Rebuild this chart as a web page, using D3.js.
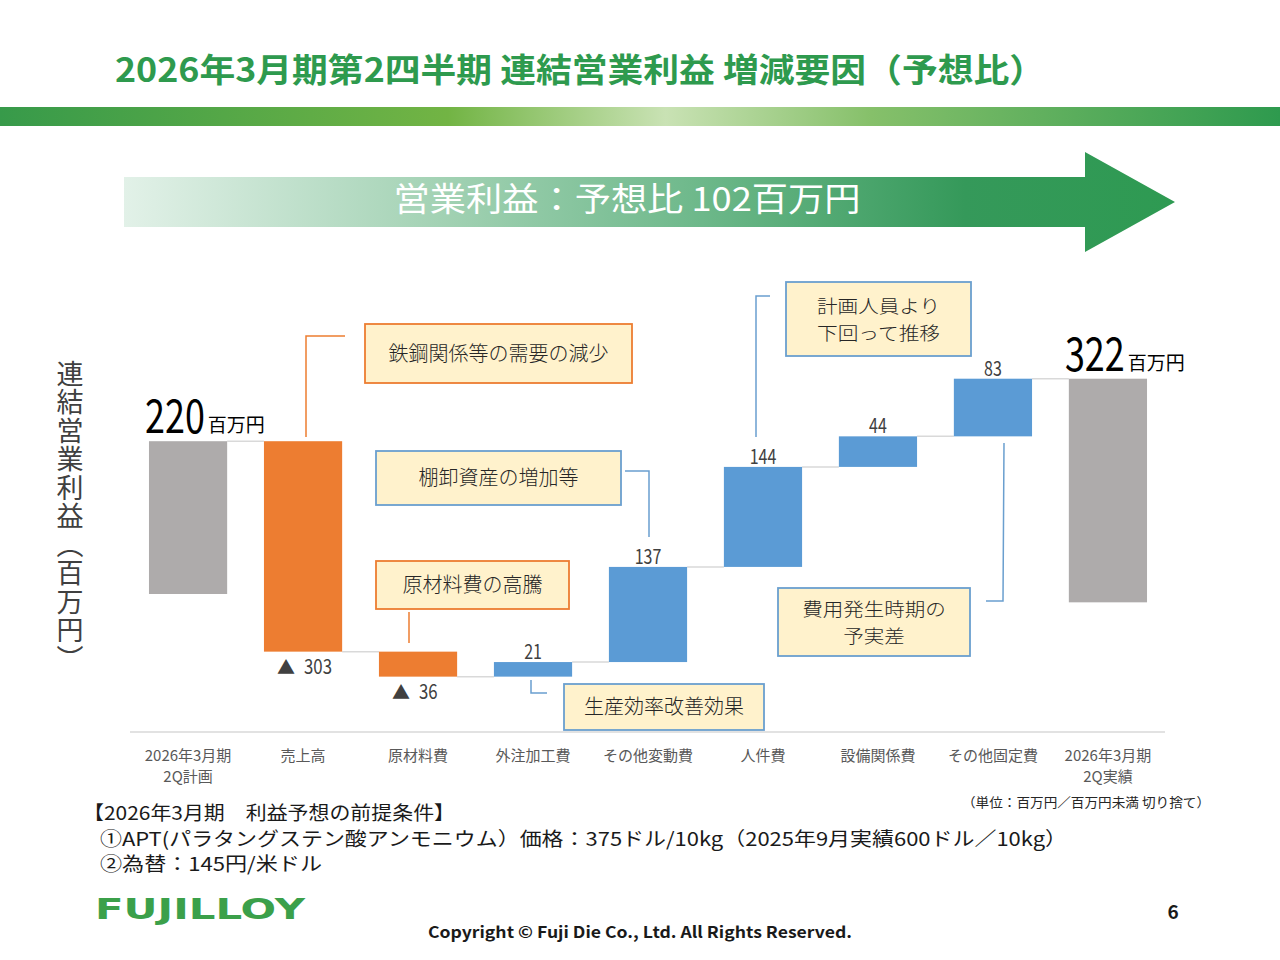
<!DOCTYPE html>
<html><head><meta charset="utf-8">
<script src="https://cdn.jsdelivr.net/npm/d3@7"></script>
<style>
html,body{margin:0;padding:0;background:#fff;}
svg{display:block;font-family:"Noto Sans CJK JP","Noto Sans",sans-serif;}
</style></head>
<body>
<script>
// ---- data ----
const categories = ["2026年3月期\n2Q計画","売上高","原材料費","外注加工費","その他変動費","人件費","設備関係費","その他固定費","2026年3月期\n2Q実績"];
const values = [220, -303, -36, 21, 137, 144, 44, 83, 322];
const kinds = ["total","delta","delta","delta","delta","delta","delta","delta","total"];
const title = "2026年3月期第2四半期 連結営業利益 増減要因（予想比）";
const bannerText = "営業利益：予想比 102百万円";
const yAxisLabel = "連結営業利益（百万円）";
const unitLabel = "百万円";
const unitNote = "（単位：百万円／百万円未満 切り捨て）";
const notes = ["【2026年3月期　利益予想の前提条件】","①APT(パラタングステン酸アンモニウム）価格：375ドル/10kg（2025年9月実績600ドル／10kg）","②為替：145円/米ドル"];
const callouts = [
  {cat:1, lines:["鉄鋼関係等の需要の減少"], color:"orange"},
  {cat:4, lines:["棚卸資産の増加等"], color:"blue"},
  {cat:2, lines:["原材料費の高騰"], color:"orange"},
  {cat:3, lines:["生産効率改善効果"], color:"blue"},
  {cat:5, lines:["計画人員より","下回って推移"], color:"blue"},
  {cat:7, lines:["費用発生時期の","予実差"], color:"blue"}
];

const W=1280,H=960;
const svg=d3.select("body").append("svg").attr("width",W).attr("height",H);
const defs=svg.append("defs");

// condensed text via horizontal scale transform
function ctext(px,py,f,anchor){
  return svg.append("g").attr("transform",`translate(${px},${py}) scale(${f},1)`).append("text").attr("text-anchor",anchor||"start");
}

// ---- header ----
svg.append("text").attr("x",115).attr("y",82).attr("font-size",33).attr("font-weight",700)
  .attr("fill","#2E9A4E").attr("textLength",930).attr("lengthAdjust","spacingAndGlyphs").text(title);
const g1=defs.append("linearGradient").attr("id","band");
[[0,"#379A4A"],[0.35,"#72B444"],[0.52,"#C9E2B4"],[0.68,"#86C06A"],[1,"#2E9A4E"]].forEach(s=>g1.append("stop").attr("offset",s[0]).attr("stop-color",s[1]));
svg.append("rect").attr("x",0).attr("y",107).attr("width",W).attr("height",19).attr("fill","url(#band)");

// banner arrow
const g2=defs.append("linearGradient").attr("id","arrow").attr("gradientUnits","userSpaceOnUse").attr("x1",124).attr("x2",1175).attr("y1",0).attr("y2",0);
[[0,"#E2F1E8"],[0.3,"#A3D2B4"],[0.55,"#6DB88A"],[0.8,"#35995A"],[1,"#2E9A52"]].forEach(s=>g2.append("stop").attr("offset",s[0]).attr("stop-color",s[1]));
svg.append("path").attr("d","M124,177H1085V152L1175,202L1085,252V227H124Z").attr("fill","url(#arrow)");
svg.append("text").attr("x",627).attr("y",211).attr("text-anchor","middle").attr("font-size",33).attr("fill","#fff")
  .attr("textLength",467).attr("lengthAdjust","spacingAndGlyphs").text(bannerText);

// ---- scales ----
const x=d3.scaleBand().domain(d3.range(categories.length)).range([130,1166]).paddingInner(0.32).paddingOuter(0.165);
const y=d3.scaleLinear().domain([-150,420]).range([594+150*0.6945,594-420*0.6945]);

// compute bars
let run=0;
const bars=values.map((v,i)=>{
  let lo,hi;
  if(i===0){lo=0;hi=v;run=v;}
  else if(kinds[i]==="total"){hi=run;lo=run-v;}
  else {const s=run;run+=v;lo=Math.min(s,run);hi=Math.max(s,run);}
  return {i,v,lo,hi,kind:kinds[i],end:kinds[i]==="total"?hi:run};
});
const colorOf=d=>d.kind==="total"?"#AEABAB":(d.v<0?"#ED7D31":"#5B9BD5");

// axis line
svg.append("line").attr("x1",130).attr("x2",1165).attr("y1",732).attr("y2",732).attr("stroke","#D9D9D9").attr("stroke-width",1.5);

// connectors
const conn=svg.append("g").attr("stroke","#D9D9D9").attr("stroke-width",1.5);
bars.slice(0,-1).forEach(d=>{
  const lvl=d.kind==="total"?d.hi:d.end;
  conn.append("line").attr("x1",x(d.i)+x.bandwidth()).attr("x2",x(d.i+1)).attr("y1",y(lvl)).attr("y2",y(lvl));
});

// bars
svg.append("g").selectAll("rect").data(bars).join("rect")
  .attr("x",d=>x(d.i)).attr("width",x.bandwidth())
  .attr("y",d=>y(d.hi)).attr("height",d=>y(d.lo)-y(d.hi)).attr("fill",colorOf);

// value labels
bars.forEach(d=>{
  const cx=x(d.i)+x.bandwidth()/2;
  if(d.kind==="total"){
    const big=ctext(cx-43,y(d.hi)-8,0.78).attr("font-size",46).attr("fill","#000").text(d.v);
    const bw=big.node().getComputedTextLength()*0.78;
    svg.append("text").attr("x",cx-43+bw+3).attr("y",y(d.hi)-9).attr("font-size",19).attr("fill","#000").text(unitLabel);
  } else if(d.v<0){
    svg.append("text").attr("x",cx-8).attr("y",y(d.lo)+22).attr("text-anchor","end").attr("font-size",18).attr("fill","#404040").text("▲");
    ctext(cx+1,y(d.lo)+22,0.8).attr("font-size",21).attr("fill","#404040").text(Math.abs(d.v));
  } else {
    ctext(cx,y(d.hi)-3,0.8,"middle").attr("font-size",20).attr("fill","#404040").text(d.v);
  }
});

// category labels
categories.forEach((c,i)=>{
  const cx=x(i)+x.bandwidth()/2;
  c.split("\n").forEach((ln,j)=>{
    svg.append("text").attr("x",cx).attr("y",761+j*21).attr("text-anchor","middle").attr("font-size",15).attr("fill","#595959").text(ln);
  });
});

// y axis label (vertical)
svg.append("text").attr("x",70).attr("y",360).attr("font-size",27).attr("fill","#404040").attr("letter-spacing",1.5)
  .style("writing-mode","vertical-rl").text(yAxisLabel);

// callouts
const boxes=[
  {b:[365,324,267,59], path:[[345,336],[306,336],[306,437]]},
  {b:[376,451,245,54], path:[[625,471],[649,471],[649,537]]},
  {b:[376,561,193,48], path:[[409,612],[409,643]]},
  {b:[564,684,200,46], path:[[531,680],[531,693],[547,693]]},
  {b:[786,282,185,74], path:[[770,296],[756,296],[756,437]]},
  {b:[778,588,192,68], path:[[986,601],[1003,601],[1004,443]]}
];
callouts.forEach((c,k)=>{
  const bx=boxes[k], col=c.color==="orange"?"#ED7D31":"#6A9FCF";
  svg.append("rect").attr("x",bx.b[0]).attr("y",bx.b[1]).attr("width",bx.b[2]).attr("height",bx.b[3])
    .attr("fill","#FFF2CC").attr("stroke",col).attr("stroke-width",1.8);
  svg.append("path").attr("d",d3.line()(bx.path)).attr("fill","none").attr("stroke",col).attr("stroke-width",1.5);
  const n=c.lines.length, cy=bx.b[1]+bx.b[3]/2;
  c.lines.forEach((ln,j)=>{
    const t=svg.append("text").attr("x",bx.b[0]+bx.b[2]/2).attr("y",cy+7+(j-(n-1)/2)*27).attr("text-anchor","middle")
      .attr("font-size",n>1?18.5:20).attr("font-weight",300).attr("fill","#262626").text(ln);
    if(n>1) t.attr("textLength",ln.length*20.5).attr("lengthAdjust","spacingAndGlyphs");
  });
});

// unit note
svg.append("text").attr("x",1210).attr("y",807).attr("text-anchor","end").attr("font-size",13).attr("fill","#262626")
  .attr("textLength",248).attr("lengthAdjust","spacingAndGlyphs").text(unitNote);

// notes
const nx=[83,100,100], ny=[820,846,871], nw=[372,967,222];
notes.forEach((t,i)=>{
  svg.append("text").attr("x",nx[i]).attr("y",ny[i]).attr("font-size",19).attr("fill","#1a1a1a")
    .attr("textLength",nw[i]).attr("lengthAdjust","spacingAndGlyphs").text(t);
});

// footer
svg.append("text").attr("x",95).attr("y",919).attr("font-size",29).attr("font-weight",900).attr("fill","#3BA04A")
  .attr("font-family","DejaVu Sans").attr("textLength",210).attr("lengthAdjust","spacingAndGlyphs").text("FUJILLOY");
svg.append("text").attr("x",640).attr("y",938).attr("text-anchor","middle").attr("font-size",16).attr("font-weight",700).attr("fill","#1a1a1a")
  .attr("textLength",424).attr("lengthAdjust","spacingAndGlyphs").text("Copyright © Fuji Die Co., Ltd. All Rights Reserved.");
svg.append("text").attr("x",1173).attr("y",919).attr("text-anchor","middle").attr("font-size",19).attr("font-weight",700).attr("fill","#1a1a1a").text("6");
</script>
</body></html>
